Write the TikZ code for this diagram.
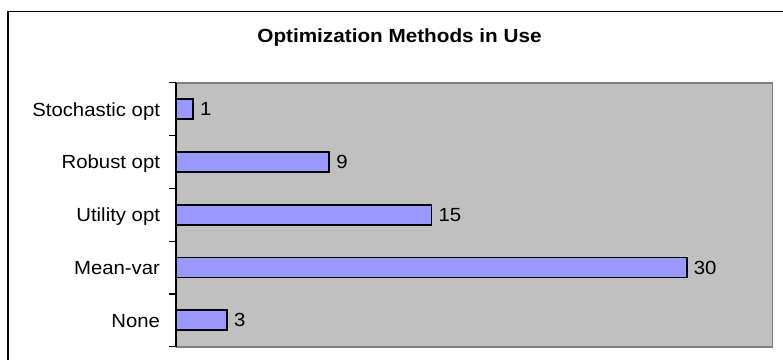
\documentclass[tikz,border=0pt]{standalone}
\usepackage{graphicx}
\usepackage{fontspec}
\setmainfont{Liberation Sans}
\usetikzlibrary{positioning}
\definecolor{plotgray}{HTML}{C0C0C0}
\definecolor{edgegray}{HTML}{808080}
\definecolor{barblue}{HTML}{9999FF}
\newcommand{\chartlbl}[1]{\scalebox{1.07}[1]{#1}}

\begin{document}
\begin{tikzpicture}[x=1pt, y=-1pt]
        \useasboundingbox (0,0) rectangle (783,359);
        % frame and title
        \draw[black, line width=1.2pt] (8,380) -- (8,11.3) -- (800,11.3);
        \node[anchor=base, inner sep=0, font=\bfseries\fontsize{19}{22}\selectfont] (title) at (399.5,42.7) {\scalebox{1.09}[1]{Optimization Methods in Use}};
        % plot area
        \fill[plotgray] (176,82.7) rectangle (772.3,346.7);
        \draw[edgegray, line width=1.6pt] (176,346.7) -- (772.3,346.7) -- (772.3,82.7) -- (176,82.7);
        \draw[black, line width=1.2pt] (176,82.7) -- (176,346.7);
        \draw[black, line width=1.2pt] (169,82.7) -- (176,82.7);
        \draw[black, line width=1.2pt] (169,135.5) -- (176,135.5);
        \draw[black, line width=1.2pt] (169,188.3) -- (176,188.3);
        \draw[black, line width=1.2pt] (169,241.1) -- (176,241.1);
        \draw[black, line width=1.2pt] (169,293.9) -- (176,293.9);
        \draw[black, line width=1.2pt] (169,346.7) -- (176,346.7);
        \begin{scope}[every node/.style={inner sep=0, outer sep=0, font=\fontsize{19}{22}\selectfont}]
                \node[anchor=base east] (Sto) at (160,116.1) {\chartlbl{Stochastic opt}};
                \node[anchor=base east] (Rob) at (160,168.9) {\chartlbl{Robust opt}};
                \node[anchor=base east] (Uti) at (160,221.7) {\chartlbl{Utility opt}};
                \node[anchor=base east] (Mea) at (160,274.5) {\chartlbl{Mean-var}};
                \node[anchor=base east] (Non) at (160,327.3) {\chartlbl{None}};
        \end{scope}
        \begin{scope}[every node/.style={draw=black, fill=barblue, line width=1.8pt, inner sep=0, outer sep=0, minimum height=20pt, anchor=west}]
                \node[minimum width=17.03pt] (bSto) at (176,109.1) {};
                \node[minimum width=153.3pt] (bRob) at (176,161.9) {};
                \node[minimum width=255.5pt] (bUti) at (176,214.7) {};
                \node[minimum width=510.9pt] (bMea) at (176,267.5) {};
                \node[minimum width=51.1pt] (bNon) at (176,320.3) {};
        \end{scope}
        \begin{scope}[every node/.style={inner sep=0, outer sep=0, font=\fontsize{19}{22}\selectfont}]
                \node[right=7pt of bSto] (vSto) {\chartlbl{1}};
                \node[right=7pt of bRob] (vRob) {\chartlbl{9}};
                \node[right=7pt of bUti] (vUti) {\chartlbl{15}};
                \node[right=7pt of bMea] (vMea) {\chartlbl{30}};
                \node[right=7pt of bNon] (vNon) {\chartlbl{3}};
        \end{scope}
\end{tikzpicture}
\end{document}
